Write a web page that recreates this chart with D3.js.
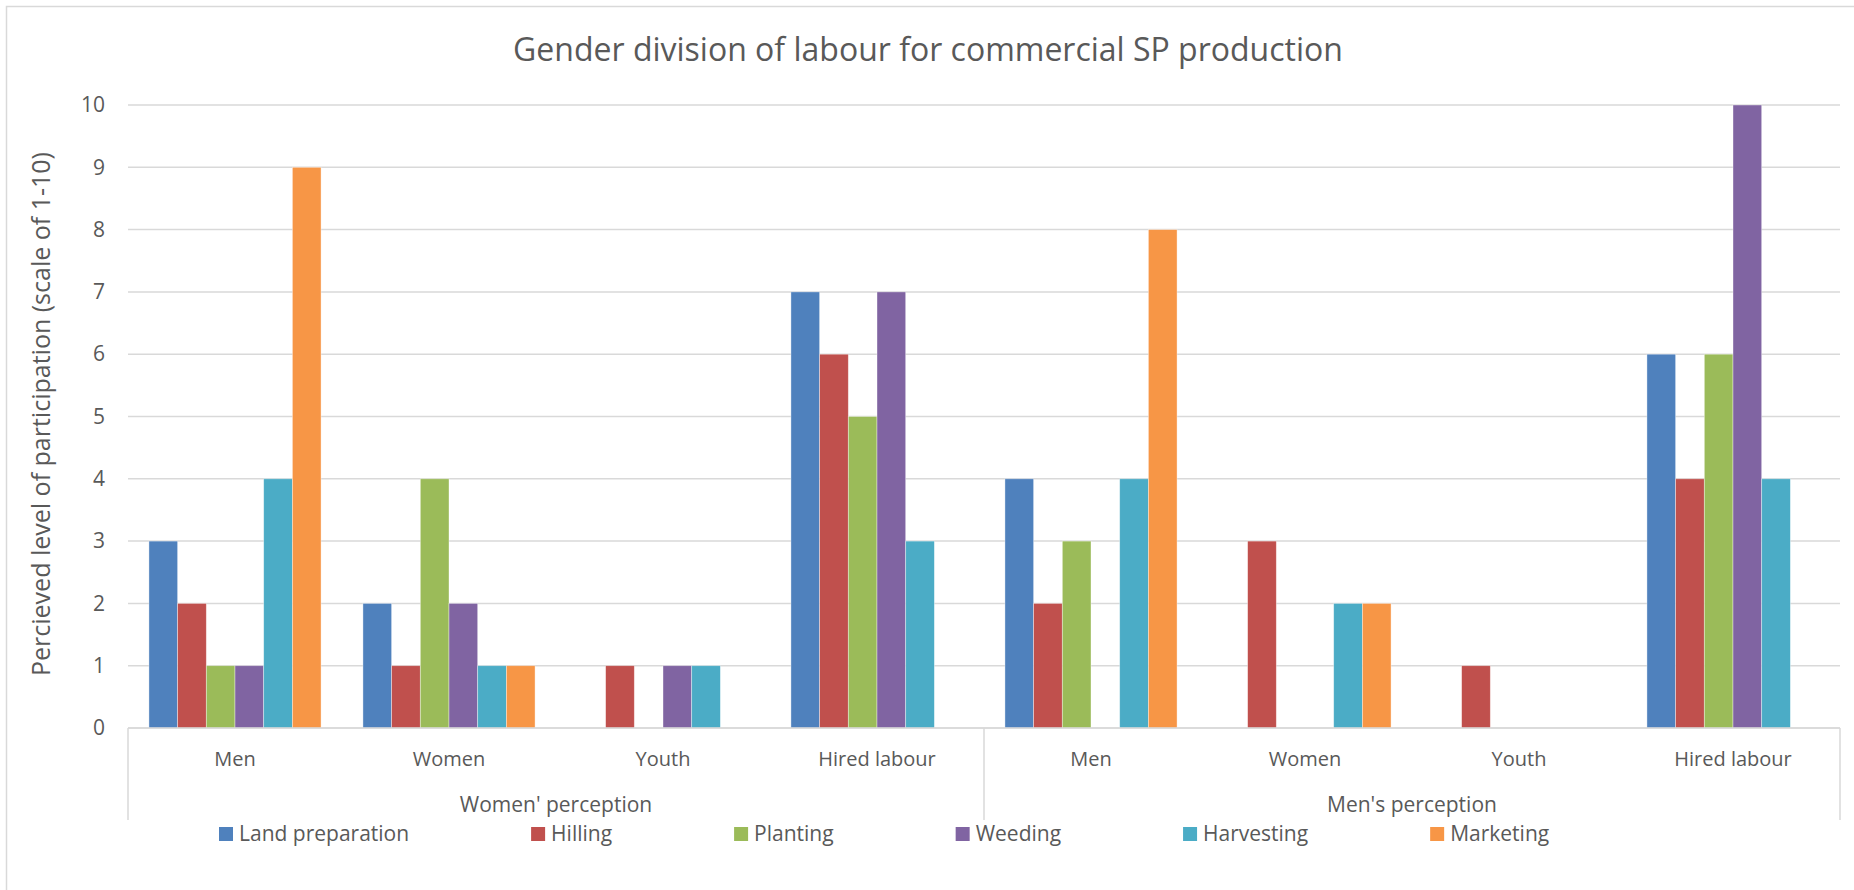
<!DOCTYPE html>
<html>
<head>
<meta charset="utf-8">
<script src="https://cdn.jsdelivr.net/npm/d3@7"></script>
<style>
  html, body { margin: 0; padding: 0; background: #fff; }
  svg { display: block; font-family: 'Open Sans', sans-serif; }
</style>
</head>
<body>
<svg id="chart"></svg>
<script>
const width = 1854, height = 890;

const groups = ["Women' perception", "Men's perception"];
const categories = ['Men', 'Women', 'Youth', 'Hired labour'];
const series = ['Land preparation', 'Hilling', 'Planting', 'Weeding', 'Harvesting', 'Marketing'];
const colors = ['#4F81BD', '#C0504D', '#9BBB59', '#8064A2', '#4BACC6', '#F79646'];

// values per series, in order: women's view (Men, Women, Youth, Hired), men's view (Men, Women, Youth, Hired)
const landPreparation = [3, 2, 0, 7, 4, 0, 0, 6];
const hilling         = [2, 1, 1, 6, 2, 3, 1, 4];
const planting        = [1, 4, 0, 5, 3, 0, 0, 6];
const weeding         = [1, 2, 1, 7, 0, 0, 0, 10];
const harvesting      = [4, 1, 1, 3, 4, 2, 0, 4];
const marketing       = [9, 1, 0, 0, 8, 2, 0, 0];
const values = [landPreparation, hilling, planting, weeding, harvesting, marketing];

const yTicks = [0, 1, 2, 3, 4, 5, 6, 7, 8, 9, 10];

const title = 'Gender division of labour for commercial SP production';
const yTitle = 'Percieved level of participation (scale of 1-10)';

const margin = {top: 105, right: 14, bottom: 162, left: 128};
const textColor = '#595959', gridColor = '#D9D9D9';

// one slot per (group, category)
const slots = groups.flatMap(g => categories.map(c => g + '|' + c));

const svg = d3.select('#chart')
    .attr('width', width)
    .attr('height', height);

// chart border
svg.append('rect')
    .attr('x', 6.5).attr('y', 6.5)
    .attr('width', width + 10).attr('height', height + 10)
    .attr('fill', 'none')
    .attr('stroke', gridColor)
    .attr('stroke-width', 1.5);

const x0 = d3.scaleBand()
    .domain(slots)
    .range([margin.left, width - margin.right]);

const x1 = d3.scaleBand()
    .domain(series)
    .range([0, x0.bandwidth()])
    .paddingOuter(0.73);

const y = d3.scaleLinear()
    .domain([0, 10])
    .range([height - margin.bottom, margin.top]);

// gridlines
svg.append('g')
  .selectAll('line')
  .data(yTicks)
  .join('line')
    .attr('x1', margin.left).attr('x2', width - margin.right)
    .attr('y1', d => y(d)).attr('y2', d => y(d))
    .attr('stroke', gridColor)
    .attr('stroke-width', 1.5);

// y tick labels
const yAxis = d3.axisLeft(y).tickValues(yTicks).tickSize(0).tickPadding(23);
svg.append('g')
    .attr('transform', `translate(${margin.left},0)`)
    .call(yAxis)
    .call(g => g.select('.domain').remove())
    .call(g => g.selectAll('text')
        .attr('fill', textColor)
        .style('font-size', '21px')
        .style('font-family', "'Open Sans', sans-serif"));

// bars
const bars = [];
series.forEach((s, i) => slots.forEach((slot, j) => bars.push({s, i, slot, v: values[i][j]})));

svg.append('g')
  .selectAll('rect')
  .data(bars.filter(d => d.v > 0))
  .join('rect')
    .attr('x', d => x0(d.slot) + x1(d.s))
    .attr('y', d => y(d.v))
    .attr('width', x1.bandwidth())
    .attr('height', d => y(0) - y(d.v))
    .attr('fill', d => colors[d.i])
    .attr('stroke', '#fff')
    .attr('stroke-opacity', 0.5)
    .attr('stroke-width', 0.75);

// category axis: baseline and group dividers
const y0 = y(0);
const axisBottom = 820;
svg.append('line')
    .attr('x1', margin.left).attr('x2', width - margin.right)
    .attr('y1', y0).attr('y2', y0)
    .attr('stroke', gridColor).attr('stroke-width', 1.5);

const dividers = [0, categories.length, slots.length];
svg.append('g')
  .selectAll('line')
  .data(dividers)
  .join('line')
    .attr('x1', d => margin.left + d * x0.step())
    .attr('x2', d => margin.left + d * x0.step())
    .attr('y1', y0).attr('y2', axisBottom)
    .attr('stroke', gridColor).attr('stroke-width', 1.5);

// category labels
svg.append('g')
  .selectAll('text')
  .data(slots)
  .join('text')
    .attr('x', d => x0(d) + x0.bandwidth() / 2)
    .attr('y', 759)
    .attr('dy', '0.35em')
    .attr('text-anchor', 'middle')
    .attr('fill', textColor)
    .style('font-size', '20px')
    .text(d => d.split('|')[1]);

// group labels
svg.append('g')
  .selectAll('text')
  .data(groups)
  .join('text')
    .attr('x', (d, i) => margin.left + (i + 0.5) * categories.length * x0.step())
    .attr('y', 805)
    .attr('dy', '0.35em')
    .attr('text-anchor', 'middle')
    .attr('fill', textColor)
    .style('font-size', '21px')
    .text(d => d);

// title
svg.append('text')
    .attr('x', 928)
    .attr('y', 50)
    .attr('dy', '0.35em')
    .attr('text-anchor', 'middle')
    .attr('fill', textColor)
    .style('font-size', '32px')
    .text(title);

// y axis title
svg.append('text')
    .attr('transform', 'translate(41,414) rotate(-90)')
    .attr('dy', '0.35em')
    .attr('text-anchor', 'middle')
    .attr('fill', textColor)
    .style('font-size', '25px')
    .text(yTitle);

// legend, laid out left to right
const legend = svg.append('g').attr('transform', 'translate(219,834)');
let lx = 0;
series.forEach((s, i) => {
  const item = legend.append('g').attr('transform', `translate(${lx},0)`);
  item.append('rect')
      .attr('x', 0).attr('y', -7)
      .attr('width', 14).attr('height', 14)
      .attr('fill', colors[i]);
  const t = item.append('text')
      .attr('x', 20)
      .attr('dy', '0.35em')
      .attr('fill', textColor)
      .style('font-size', '21px')
      .text(s);
  lx += 20 + t.node().getComputedTextLength() + 122;
});
</script>
</body>
</html>
